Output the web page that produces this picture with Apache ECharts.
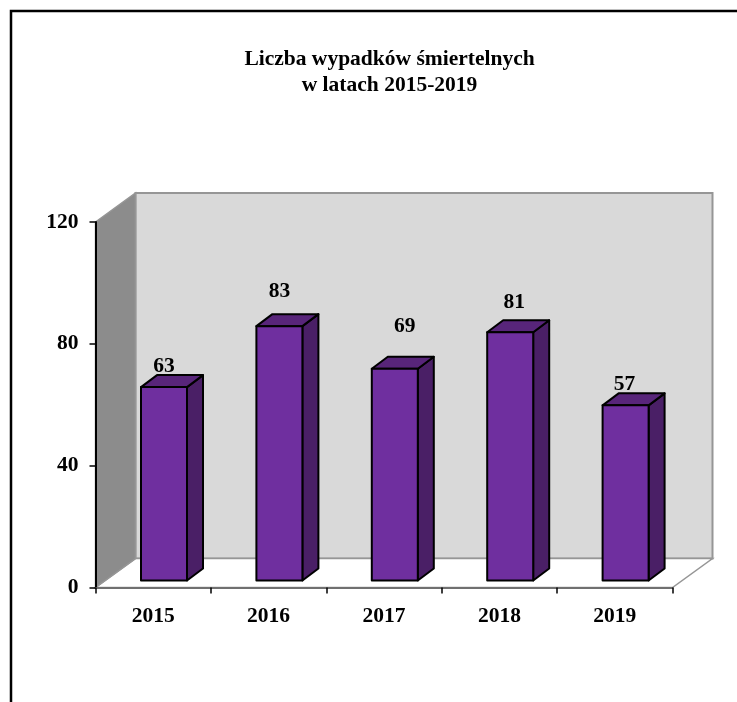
<!DOCTYPE html>
<html><head><meta charset="utf-8">
<style>html,body{margin:0;padding:0;background:#fff}#c{width:737px;height:702px}</style>
<script src="https://cdn.jsdelivr.net/npm/echarts@6/dist/echarts.min.js"></script>
</head><body><div id="c"></div>
<script>
const categories = ['2015','2016','2017','2018','2019'];
const shownValues = [63,83,69,81,57];
const barValues = [63.5,83.5,69.5,81.5,57.5];
const labelShiftX = [0,0,10,4,-1];
const labelShiftY = [-21,-35,-42,-30,-21];
const yTicks = [0,40,80,120];
const titleLines = 'Liczba wypadków śmiertelnych\nw latach 2015-2019';

const FONT = '"Liberation Serif", serif';
const DX = 40, DY = -29;
const BAR_W = 46, BAR_DX = 16, BAR_DY = -12, OFF_X = 10.8, OFF_Y = -7;

const chart = echarts.init(document.getElementById('c'), null, {renderer:'canvas'});
chart.setOption({
  animation:false,
  backgroundColor:'#fff',
  graphic:[{type:'polyline',silent:true,z:100,
    shape:{points:[[11,702],[11,11],[737,11]]},
    style:{stroke:'#000',lineWidth:2.5,fill:null}}],
  title:{text:titleLines,left:384.5,top:41,textAlign:'center',
    textStyle:{fontFamily:FONT,fontWeight:'bold',fontSize:21.5,lineHeight:26,color:'#000'}},
  grid:{left:95.5,right:64.5,top:222,bottom:114.5,containLabel:false},
  xAxis:{type:'category',data:categories,z:5,
    axisLine:{lineStyle:{color:'#707070',width:2}},
    axisTick:{show:true,length:6,lineStyle:{color:'#000',width:1.5},alignWithLabel:false},
    axisLabel:{fontFamily:FONT,fontWeight:'bold',fontSize:21.5,color:'#000',margin:18},
    splitLine:{show:false}},
  yAxis:{type:'value',min:0,max:120,interval:40,z:5,
    axisLine:{show:true,lineStyle:{color:'#000',width:2}},
    axisTick:{show:true,length:6,lineStyle:{color:'#000',width:1.5}},
    axisLabel:{fontFamily:FONT,fontWeight:'bold',fontSize:21.5,color:'#000',margin:17,
      customValues:yTicks},
    splitLine:{show:false}},
  series:[
    {type:'custom',coordinateSystem:'cartesian2d',z:1,silent:true,data:[[0,0]],
     renderItem:function(params){
       const r=params.coordSys, l=r.x, t=r.y, R=r.x+r.width, b=r.y+r.height;
       const poly=(pts,fill,stroke,w)=>({type:'polygon',shape:{points:pts},
         style:{fill:fill,stroke:stroke,lineWidth:w}});
       return {type:'group',children:[
         poly([[l+DX,t+DY],[R+DX,t+DY],[R+DX,b+DY],[l+DX,b+DY]],'#d9d9d9','#969696',2),
         poly([[l,b],[l+DX,b+DY],[R+DX,b+DY],[R,b]],'#ffffff','#969696',1.5),
         poly([[l,t],[l+DX,t+DY],[l+DX,b+DY],[l,b]],'#8c8c8c','#969696',1.5)
       ]};
     }},
    {type:'custom',coordinateSystem:'cartesian2d',z:3,
     data:barValues.map((v,i)=>[i,v,shownValues[i],labelShiftX[i],labelShiftY[i]]),
     encode:{x:0,y:1},
     renderItem:function(params,api){
       const top=api.coord([api.value(0),api.value(1)]);
       const base=api.coord([api.value(0),0]);
       const x0=top[0]+OFF_X-BAR_W/2, x1=x0+BAR_W, yT=top[1]+OFF_Y, yB=base[1]+OFF_Y;
       const edge={stroke:'#000',lineWidth:2,lineJoin:'round'};
       return {type:'group',children:[
         {type:'polygon',shape:{points:[[x1,yT],[x1+BAR_DX,yT+BAR_DY],[x1+BAR_DX,yB+BAR_DY],[x1,yB]]},
          style:Object.assign({fill:'#4a1f66'},edge)},
         {type:'polygon',shape:{points:[[x0,yT],[x0+BAR_DX,yT+BAR_DY],[x1+BAR_DX,yT+BAR_DY],[x1,yT]]},
          style:Object.assign({fill:'#58257a'},edge)},
         {type:'rect',shape:{x:x0,y:yT,width:BAR_W,height:yB-yT},
          style:Object.assign({fill:'#6f2f9f'},edge)},
         {type:'text',style:{text:String(api.value(2)),x:(x0+x1)/2+api.value(3),y:yT+api.value(4),
           textAlign:'center',textVerticalAlign:'middle',
           fontFamily:FONT,fontWeight:'bold',fontSize:21.5,fill:'#000'}}
       ]};
     }}
  ]
});
</script></body></html>
